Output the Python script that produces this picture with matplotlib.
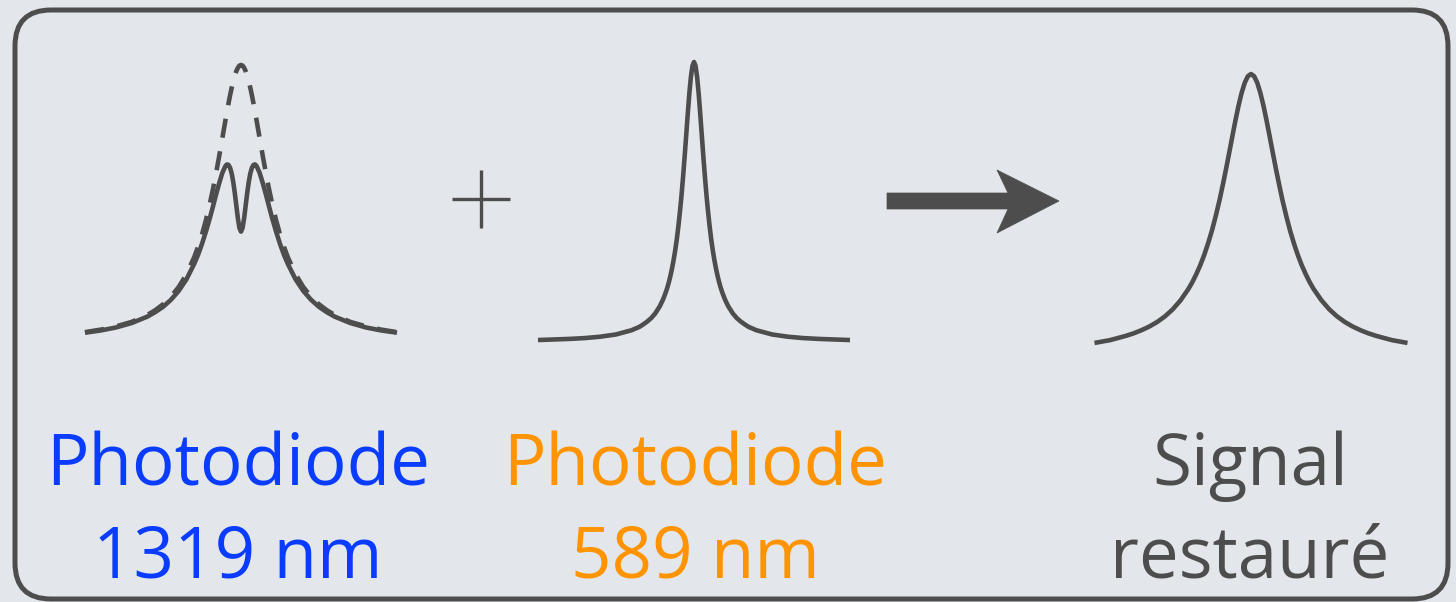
import matplotlib
matplotlib.use("Agg")
import matplotlib.pyplot as plt
from matplotlib.patches import FancyBboxPatch, Polygon

# ---------------- data (normalised line shapes) ----------------
x_1319 = [-5, -4.5, -4, -3.5, -3, -2.75, -2.5, -2.25, -2, -1.75, -1.5, -1.375, -1.25, -1.125,
          -1, -0.9, -0.8, -0.7, -0.6, -0.5, -0.45, -0.4, -0.35, -0.3, -0.25, -0.2, -0.15,
          -0.1, -0.05, 0, 0.05, 0.1, 0.15, 0.2, 0.25, 0.3, 0.35, 0.4, 0.45, 0.5, 0.6, 0.7,
          0.8, 0.9, 1, 1.125, 1.25, 1.375, 1.5, 1.75, 2, 2.25, 2.5, 2.75, 3, 3.5, 4, 4.5, 5]
y_1319_free = [0.038, 0.047, 0.059, 0.075, 0.100, 0.117, 0.138, 0.165, 0.200, 0.246, 0.308,
               0.346, 0.390, 0.441, 0.500, 0.552, 0.610, 0.671, 0.735, 0.800, 0.832, 0.862,
               0.891, 0.917, 0.941, 0.962, 0.978, 0.990, 0.998, 1.000, 0.998, 0.990, 0.978,
               0.962, 0.941, 0.917, 0.891, 0.862, 0.832, 0.800, 0.735, 0.671, 0.610, 0.552,
               0.500, 0.441, 0.390, 0.346, 0.308, 0.246, 0.200, 0.165, 0.138, 0.117, 0.100,
               0.075, 0.059, 0.047, 0.038]
y_1319_dip = [0.036, 0.044, 0.055, 0.071, 0.094, 0.110, 0.129, 0.154, 0.186, 0.228, 0.284,
              0.317, 0.356, 0.400, 0.448, 0.490, 0.533, 0.574, 0.611, 0.636, 0.642, 0.640,
              0.630, 0.610, 0.580, 0.540, 0.494, 0.448, 0.413, 0.400, 0.413, 0.448, 0.494,
              0.540, 0.580, 0.610, 0.630, 0.640, 0.642, 0.636, 0.611, 0.574, 0.533, 0.490,
              0.448, 0.400, 0.356, 0.317, 0.284, 0.228, 0.186, 0.154, 0.129, 0.110, 0.094,
              0.071, 0.055, 0.044, 0.036]

x_589 = [-5, -4.5, -4, -3.5, -3, -2.5, -2, -1.75, -1.625, -1.5, -1.375, -1.25, -1.1, -1,
         -0.95, -0.9, -0.85, -0.8, -0.75, -0.7, -0.65, -0.6, -0.55, -0.5, -0.45, -0.4, -0.35,
         -0.3, -0.25, -0.2, -0.15, -0.1, -0.05, 0, 0.05, 0.1, 0.15, 0.2, 0.25, 0.3, 0.35, 0.4,
         0.45, 0.5, 0.55, 0.6, 0.65, 0.7, 0.75, 0.8, 0.85, 0.9, 0.95, 1, 1.1, 1.25, 1.375,
         1.5, 1.625, 1.75, 2, 2.5, 3, 3.5, 4, 4.5, 5]
y_589 = [0.007, 0.009, 0.011, 0.014, 0.019, 0.027, 0.042, 0.054, 0.063, 0.073, 0.085, 0.101,
         0.127, 0.150, 0.164, 0.179, 0.196, 0.216, 0.239, 0.265, 0.295, 0.329, 0.368, 0.414,
         0.466, 0.524, 0.590, 0.662, 0.738, 0.815, 0.887, 0.946, 0.986, 1.000, 0.986, 0.946,
         0.887, 0.815, 0.738, 0.662, 0.590, 0.524, 0.466, 0.414, 0.368, 0.329, 0.295, 0.265,
         0.239, 0.216, 0.196, 0.179, 0.164, 0.150, 0.127, 0.101, 0.085, 0.073, 0.063, 0.054,
         0.042, 0.027, 0.019, 0.014, 0.011, 0.009, 0.007]

x_sig = [-5, -4.5, -4, -3.75, -3.5, -3.25, -3, -2.75, -2.5, -2.25, -2, -1.875, -1.75, -1.625,
         -1.5, -1.375, -1.25, -1.125, -1, -0.9, -0.8, -0.7, -0.6, -0.5, -0.4, -0.3, -0.2,
         -0.1, 0, 0.1, 0.2, 0.3, 0.4, 0.5, 0.6, 0.7, 0.8, 0.9, 1, 1.125, 1.25, 1.375, 1.5,
         1.625, 1.75, 1.875, 2, 2.25, 2.5, 2.75, 3, 3.25, 3.5, 3.75, 4, 4.5, 5]
y_sig = [0.048, 0.058, 0.073, 0.082, 0.093, 0.106, 0.122, 0.142, 0.167, 0.199, 0.239, 0.263,
         0.291, 0.322, 0.358, 0.399, 0.445, 0.498, 0.556, 0.608, 0.662, 0.719, 0.777, 0.834,
         0.887, 0.933, 0.969, 0.992, 1.000, 0.992, 0.969, 0.933, 0.887, 0.834, 0.777, 0.719,
         0.662, 0.608, 0.556, 0.498, 0.445, 0.399, 0.358, 0.322, 0.291, 0.263, 0.239, 0.199,
         0.167, 0.142, 0.122, 0.106, 0.093, 0.082, 0.073, 0.058, 0.048]

labels_top = ["Photodiode", "Photodiode", "Signal"]
labels_bottom = ["1319 nm", "589 nm", "restauré"]
label_colors = ["#0a3cff", "#ff9300", "#4d4d4d"]

# ---------------- figure ----------------
W, H = 1456, 602
BG = "#e3e6ea"
INK = "#4d4d4d"
fig = plt.figure(figsize=(W / 100, H / 100), dpi=100, facecolor=BG)

# overlay in pixel units (y measured upward)
ov = fig.add_axes([0, 0, 1, 1])
ov.set_xlim(0, W)
ov.set_ylim(0, H)
ov.axis("off")
ov.patch.set_alpha(0)

box = FancyBboxPatch((15, 3), 1433, 589, boxstyle="round,pad=0,rounding_size=36",
                     facecolor=BG, edgecolor=INK, linewidth=3.6)
ov.add_patch(box)

# plus sign
ov.plot([452, 510], [H - 199, H - 199], color=INK, lw=2.4, solid_capstyle="butt")
ov.plot([481, 481], [H - 170, H - 228], color=INK, lw=2.4, solid_capstyle="butt")

# arrow
arrow = Polygon([(887, H - 193), (1008, H - 193), (997, H - 170), (1059, H - 201),
                 (997, H - 233), (1008, H - 209), (887, H - 209)],
                closed=True, facecolor=INK, edgecolor=INK, lw=0.5)
ov.add_patch(arrow)

# curve axes: (center x px, baseline y px, peak y px)
def curve_axes(cx, base, peak, half=156):
    ax = fig.add_axes([(cx - half) / W, (H - base) / H, 2 * half / W, (base - peak) / H])
    ax.set_xlim(-5, 5)
    ax.set_ylim(0, 1)
    ax.axis("off")
    ax.patch.set_alpha(0)
    return ax

lw = 3.3
a1 = curve_axes(241, 342.7, 65)
a1.plot(x_1319, y_1319_free, color=INK, lw=lw, ls=(0, (4.2, 3.0)), clip_on=False,
        dash_capstyle="butt")
a1.plot(x_1319, y_1319_dip, color=INK, lw=lw, clip_on=False, solid_capstyle="butt",
        solid_joinstyle="round")

a2 = curve_axes(694, 342, 62)
a2.plot(x_589, y_589, color=INK, lw=lw, clip_on=False, solid_capstyle="butt",
        solid_joinstyle="round")

a3 = curve_axes(1251, 356.5, 74, half=156.5)
a3.plot(x_sig, y_sig, color=INK, lw=lw, clip_on=False, solid_capstyle="butt",
        solid_joinstyle="round")

# labels
centers = [238, 695, 1250]
fam = ["Open Sans", "DejaVu Sans"]
for cx, t1, t2, c in zip(centers, labels_top, labels_bottom, label_colors):
    ov.text(cx, H - 485, t1, color=c, fontsize=51, family=fam, ha="center", va="baseline")
    ov.text(cx, H - 578, t2, color=c, fontsize=51, family=fam, ha="center", va="baseline")

fig.savefig("out.png", dpi=100, facecolor=BG)
